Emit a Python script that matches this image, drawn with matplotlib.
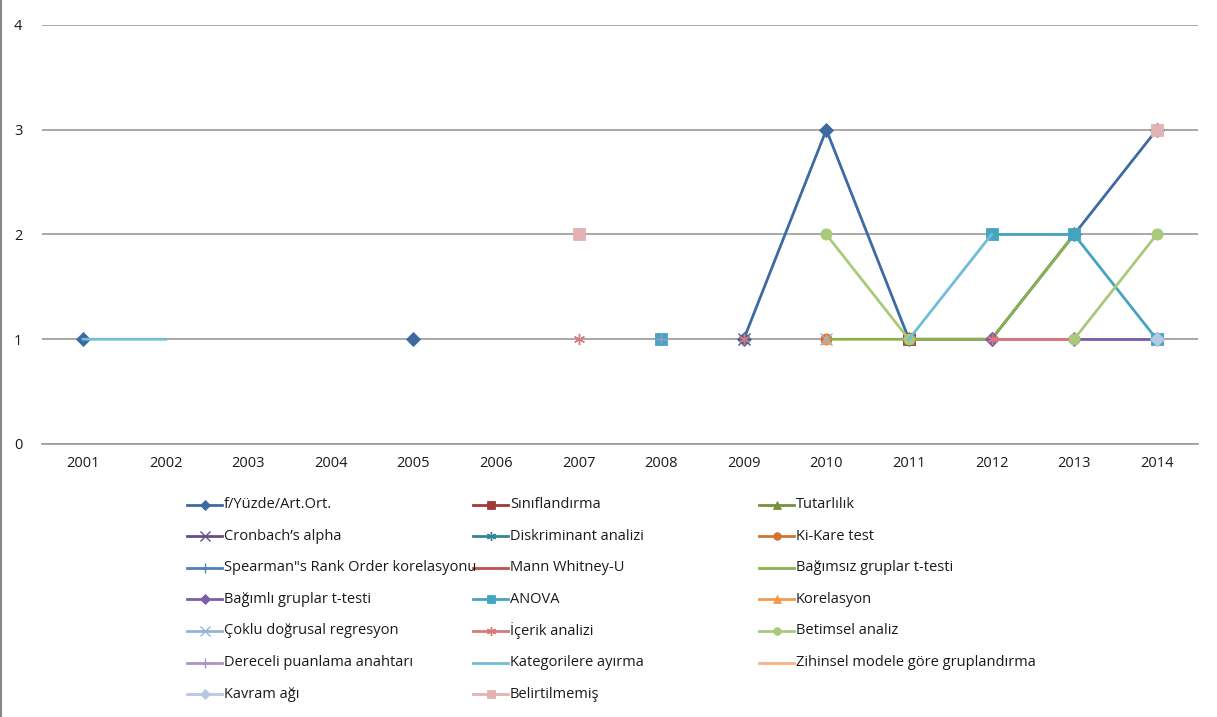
import numpy as np
import matplotlib
matplotlib.use("Agg")
import matplotlib.pyplot as plt
from matplotlib.lines import Line2D

plt.rcParams['font.family'] = ['Open Sans', 'DejaVu Sans']

n = np.nan
years = [2001, 2002, 2003, 2004, 2005, 2006, 2007, 2008, 2009, 2010, 2011, 2012, 2013, 2014]
y_ticks = [0, 1, 2, 3, 4]

f_yuzde       = [1, n, n, n, 1, n, n, n, 1, 3, 1, 1, 2, 3]
siniflandirma = [n, n, n, n, n, n, n, n, n, n, 1, n, n, n]
tutarlilik    = [n, n, n, n, n, n, n, n, n, n, 1, n, n, n]
cronbach      = [n, n, n, n, n, n, n, n, 1, n, n, n, n, n]
diskriminant  = [n, n, n, n, n, n, n, n, 1, n, n, n, n, n]
ki_kare       = [n, n, n, n, n, n, n, n, n, 1, n, n, n, n]
spearman      = [n, n, n, n, n, n, n, n, n, n, n, n, n, n]
mann_whitney  = [n, n, n, n, n, n, n, n, n, n, n, n, n, n]
bagimsiz      = [n, n, n, n, n, n, n, n, n, 1, 1, 1, 2, n]
bagimli       = [n, n, n, n, n, n, n, n, n, n, n, 1, 1, 1]
anova         = [n, n, n, n, n, n, n, 1, n, n, n, 2, 2, 1]
korelasyon    = [n, n, n, n, n, n, n, n, n, 1, n, n, n, n]
coklu         = [n, n, n, n, n, n, n, n, n, 1, n, n, n, n]
icerik        = [n, n, n, n, n, n, 1, n, 1, n, n, 1, 1, n]
betimsel      = [n, n, n, n, n, n, n, n, n, 2, 1, n, 1, 2]
dereceli      = [n, n, n, n, n, n, n, 1, n, n, n, n, n, n]
kategorilere  = [1, 1, n, n, n, n, n, n, n, n, 1, 2, n, n]
zihinsel      = [n, n, n, n, n, n, n, n, n, n, n, n, n, n]
kavram        = [n, n, n, n, n, n, n, n, n, n, n, n, n, 1]
belirtilmemis = [n, n, n, n, n, n, 2, n, n, n, n, n, n, 3]

ASTER = (6, 2, 0)
THIN = ('x', '+', ASTER)
SIZES = {'D': 7, 's': 8, 'o': 8, '^': 7}
series = [
    ("f/Yüzde/Art.Ort.", f_yuzde, '#3D6AA2', 'D'),
    ("Sınıflandırma", siniflandirma, '#9C3B38', 's'),
    ("Tutarlılık", tutarlilik, '#76923C', '^'),
    ("Cronbach’s alpha", cronbach, '#674E86', 'x'),
    ("Diskriminant analizi", diskriminant, '#31859C', ASTER),
    ("Ki-Kare test", ki_kare, '#CF7432', 'o'),
    ("Spearman\"s Rank Order korelasyonu", spearman, '#4F81BD', '+'),
    ("Mann Whitney-U", mann_whitney, '#C0504D', None),
    ("Bağımsız gruplar t-testi", bagimsiz, '#8DB04C', None),
    ("Bağımlı gruplar t-testi", bagimli, '#7B5EA7', 'D'),
    ("ANOVA", anova, '#45A5C1', 's'),
    ("Korelasyon", korelasyon, '#F39A4C', '^'),
    ("Çoklu doğrusal regresyon", coklu, '#95B3D7', 'x'),
    ("İçerik analizi", icerik, '#D9797A', ASTER),
    ("Betimsel analiz", betimsel, '#A9C97D', 'o'),
    ("Dereceli puanlama anahtarı", dereceli, '#A994C6', '+'),
    ("Kategorilere ayırma", kategorilere, '#72BCD8', None),
    ("Zihinsel modele göre gruplandırma", zihinsel, '#F9B283', None),
    ("Kavram ağı", kavram, '#B6C9E4', 'D'),
    ("Belirtilmemiş", belirtilmemis, '#E3B2B2', 's'),
]

W, H = 1217, 717
fig = plt.figure(figsize=(W / 100, H / 100), dpi=100)
ax = fig.add_axes([41.7 / W, 1 - 444 / H, (1198 - 41.7) / W, (444 - 25) / H])

x = np.arange(len(years))
for i, (label, vals, color, marker) in enumerate(series):
    ms = SIZES.get(marker, 8)
    ax.plot(x, np.array(vals, dtype=float), color=color, lw=2.0,
            marker=marker, markersize=ms, markeredgewidth=1.0 if marker in THIN else 0.6,
            markerfacecolor=color, markeredgecolor=color, zorder=3 + i, clip_on=False)

ax.set_xlim(-0.5, len(years) - 0.5)
ax.set_ylim(0, 4)
ax.set_yticks(y_ticks)
ax.set_xticks(x)
ax.set_xticklabels([str(y) for y in years])
ax.grid(axis='y', color='#9a9a9a', lw=1.2)
ax.set_axisbelow(True)
for s in ['top', 'right', 'left']:
    ax.spines[s].set_visible(False)
ax.spines['bottom'].set_color('#9a9a9a')
ax.spines['bottom'].set_linewidth(1.2)
ax.tick_params(axis='both', length=0, labelsize=10.5, colors='#1a1a1a')
ax.tick_params(axis='y', pad=14)
ax.tick_params(axis='x', pad=9)

# legend drawn in three fixed-width columns
col_x = [187, 473, 759]
row_y0, row_dy = 504.5, 31.6
for i, (label, vals, color, marker) in enumerate(series):
    r, c = divmod(i, 3)
    x0 = col_x[c]
    yy = 1 - (row_y0 + r * row_dy) / H
    ms = 5.5 if marker in ('D', 's', 'o', '^') else 6.5
    fig.add_artist(Line2D([x0 / W, (x0 + 35) / W], [yy, yy], color=color, lw=2.0,
                          transform=fig.transFigure))
    if marker is not None:
        fig.add_artist(Line2D([(x0 + 17.5) / W], [yy], color=color, marker=marker,
                              markersize=ms, markerfacecolor=color, markeredgecolor=color,
                              markeredgewidth=1.0 if marker in THIN else 0.6,
                              transform=fig.transFigure))
    fig.text((x0 + 37) / W, yy, label, fontsize=10.5, va='center', ha='left', color='#1a1a1a')

fig.add_artist(Line2D([1 / W, 1 / W], [0, 1], color='#888888', lw=1.5, transform=fig.transFigure))

fig.savefig('out.png', dpi=100)
